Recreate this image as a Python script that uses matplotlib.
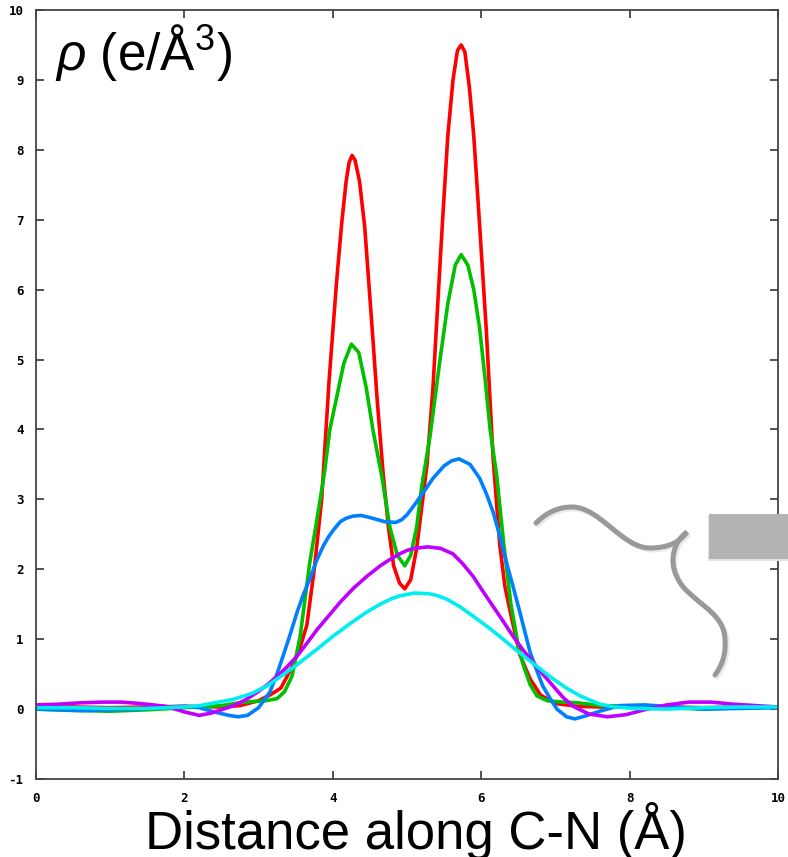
import numpy as np
import matplotlib.pyplot as plt
from matplotlib.path import Path
from matplotlib.patches import PathPatch, Rectangle

plt.rcParams['font.family'] = ['Liberation Sans', 'DejaVu Sans']
plt.rcParams['mathtext.fontset'] = 'custom'
plt.rcParams['mathtext.rm'] = 'Liberation Sans'
plt.rcParams['mathtext.it'] = 'Liberation Sans:italic'
plt.rcParams['axes.unicode_minus'] = False

# density profiles along the C-N axis
x_red = [0, 0.5, 1.0, 1.5, 2.0, 2.5, 2.75, 3.0, 3.15, 3.3, 3.45, 3.55, 3.65, 3.75, 3.85,
         3.95, 4.05, 4.12, 4.18, 4.22, 4.26, 4.3, 4.36, 4.43, 4.53, 4.6, 4.68, 4.75, 4.82, 4.9,
         4.97, 5.05, 5.13, 5.2, 5.27, 5.35, 5.42, 5.48, 5.55, 5.62, 5.68, 5.73, 5.78, 5.84,
         5.9, 5.98, 6.07, 6.16, 6.25, 6.32, 6.4, 6.52, 6.66, 6.8, 7.0, 7.3, 7.6, 8.0, 8.5,
         9.0, 9.5, 10]
y_red = [0.03, 0.03, 0.02, 0.03, 0.04, 0.03, 0.05, 0.12, 0.2, 0.3, 0.6, 0.85, 1.2, 2.0, 3.0,
         4.7, 6.1, 6.95, 7.55, 7.82, 7.92, 7.85, 7.55, 6.9, 5.45, 4.4, 3.35, 2.6, 2.05, 1.8,
         1.72, 1.85, 2.3, 2.9, 3.5, 4.6, 5.9, 7.0, 8.2, 9.0, 9.42, 9.5, 9.4, 8.9,
         8.2, 6.9, 5.4, 3.6, 2.35, 1.75, 1.35, 0.78, 0.43, 0.2, 0.08, 0.04, 0.03, 0.04, 0.03,
         0.02, 0.03, 0.03]

x_green = [0, 0.5, 1.0, 1.5, 2.0, 2.5, 2.8, 3.1, 3.25, 3.35, 3.45, 3.56, 3.69, 3.8, 3.89,
           3.96, 4.05, 4.15, 4.25, 4.35, 4.45, 4.54, 4.66, 4.77, 4.87, 4.97, 5.05, 5.13,
           5.2, 5.31, 5.44, 5.55, 5.65, 5.73, 5.82, 5.9, 5.98, 6.05, 6.12, 6.21, 6.3, 6.4,
           6.5, 6.57, 6.66, 6.75, 6.89, 7.1, 7.3, 7.6, 8.0, 8.5, 9.0, 9.5, 10]
y_green = [0.0, -0.02, -0.03, -0.01, 0.02, 0.05, 0.1, 0.12, 0.15, 0.25, 0.47, 1.04, 2.1, 2.8, 3.4,
           4.0, 4.45, 4.95, 5.22, 5.1, 4.6, 4.0, 3.33, 2.6, 2.2, 2.05, 2.2, 2.6,
           3.2, 3.9, 4.96, 5.8, 6.35, 6.5, 6.35, 6.0, 5.44, 4.75, 4.0, 3.33, 2.4, 1.5,
           0.9, 0.62, 0.35, 0.19, 0.12, 0.1, 0.09, 0.05, 0.04, 0.02, 0.0, 0.02, 0.03]

x_blue = [0, 0.3, 0.6, 1.0, 1.4, 1.8, 2.0, 2.2, 2.4, 2.6, 2.72, 2.85, 3.0, 3.15, 3.24, 3.33,
          3.42, 3.52, 3.6, 3.69, 3.78, 3.87, 3.94, 4.0, 4.1, 4.18, 4.27, 4.38, 4.5, 4.6, 4.7,
          4.85, 4.93, 5.0, 5.1, 5.22, 5.35, 5.5, 5.6, 5.7, 5.85, 5.98, 6.07, 6.16, 6.25, 6.34,
          6.43, 6.52, 6.66, 6.75, 6.83, 6.93, 7.02, 7.15, 7.26, 7.4, 7.6, 7.87, 8.2, 8.6, 9.0,
          9.5, 10]
y_blue = [0.0, -0.01, -0.02, -0.01, 0.0, 0.03, 0.04, 0.02, -0.04, -0.09, -0.11, -0.09, 0.02,
          0.24, 0.48, 0.76, 1.05, 1.39, 1.63, 1.86, 2.12, 2.33, 2.46, 2.55, 2.68, 2.73, 2.76,
          2.77, 2.74, 2.71, 2.68, 2.67, 2.71, 2.78, 2.92, 3.1, 3.3, 3.48, 3.55, 3.58, 3.5, 3.3,
          3.08, 2.82, 2.48, 2.1, 1.75, 1.39, 0.81, 0.55, 0.33, 0.15, 0.0, -0.11, -0.14, -0.1,
          -0.03, 0.05, 0.06, 0.03, 0.0, 0.01, 0.02]

x_purple = [0, 0.3, 0.6, 0.9, 1.15, 1.4, 1.75, 2.0, 2.2, 2.35, 2.5, 2.66, 2.82, 2.98, 3.12,
            3.25, 3.38, 3.52, 3.65, 3.79, 3.95, 4.1, 4.28, 4.46, 4.64, 4.77, 4.9, 5.0, 5.1,
            5.28, 5.45, 5.62, 5.75, 5.89, 6.02, 6.16, 6.3, 6.43, 6.56, 6.7, 6.83, 6.97, 7.1,
            7.24, 7.45, 7.7, 7.95, 8.2, 8.5, 8.8, 9.1, 9.4, 9.7, 10]
y_purple = [0.06, 0.07, 0.09, 0.1, 0.1, 0.08, 0.04, -0.04, -0.09, -0.06, -0.01, 0.05, 0.13,
            0.24, 0.35, 0.47, 0.6, 0.76, 0.94, 1.14, 1.34, 1.53, 1.73, 1.9, 2.05, 2.14, 2.22,
            2.27, 2.3, 2.32, 2.3, 2.22, 2.08, 1.9, 1.69, 1.47, 1.25, 1.04, 0.85, 0.67, 0.5,
            0.33, 0.17, 0.04, -0.07, -0.11, -0.08, -0.01, 0.06, 0.1, 0.1, 0.07, 0.05, 0.03]

x_cyan = [0, 0.5, 1.0, 1.5, 2.0, 2.21, 2.66, 2.9, 3.11, 3.33, 3.56, 3.78, 4.0, 4.23, 4.46,
          4.64, 4.77, 4.9, 5.1, 5.3, 5.42, 5.54, 5.72, 5.89, 6.07, 6.25, 6.43, 6.62, 6.8,
          6.97, 7.15, 7.33, 7.6, 7.8, 8.05, 8.5, 9.0, 9.5, 10]
y_cyan = [0.02, 0.02, 0.01, 0.01, 0.03, 0.05, 0.14, 0.22, 0.33, 0.49, 0.67, 0.85, 1.04, 1.22,
          1.39, 1.5, 1.57, 1.62, 1.66, 1.65, 1.62, 1.57, 1.46, 1.33, 1.19, 1.04, 0.88, 0.72,
          0.57, 0.43, 0.3, 0.19, 0.07, 0.03, 0.01, 0.0, 0.02, 0.03, 0.03]

W, H = 788, 857
fig = plt.figure(figsize=(W / 100, H / 100), dpi=100)
ax = fig.add_axes([36 / W, 1 - 779 / H, 742 / W, 769 / H])

lw = 2.6
ax.plot(x_red, y_red, color='#ff0000', lw=lw)
ax.plot(x_green, y_green, color='#00c000', lw=lw)
ax.plot(x_blue, y_blue, color='#0080ff', lw=lw)
ax.plot(x_purple, y_purple, color='#c000ff', lw=lw)
ax.plot(x_cyan, y_cyan, color='#00eeee', lw=lw)

ax.set_xlim(0, 10)
ax.set_ylim(-1, 10)
ax.set_xticks([0, 2, 4, 6, 8, 10])
ax.set_yticks(range(-1, 11))
ax.tick_params(direction='in', length=6, width=1.2, color='#333333',
               top=True, right=True, pad=9)
for lab in ax.get_xticklabels() + ax.get_yticklabels():
    lab.set_fontfamily('DejaVu Sans Mono')
    lab.set_fontweight('bold')
    lab.set_fontsize(9)
for s in ax.spines.values():
    s.set_color('#444444')
    s.set_linewidth(1.3)

ax.text(0.025, 0.985, r'$\rho$ (e/Å$^3$)', transform=ax.transAxes,
        fontsize=37, va='top', ha='left')
fig.text(416 / W, 1 - 849 / H, 'Distance along C-N (Å)', fontsize=38,
         ha='center', va='baseline')


# grey squiggle and box on the right, in figure pixels
def fpt(px, py):
    return (px / W, 1 - py / H)


verts = [(536, 523), (548, 511), (560, 507), (572, 507),
         (600, 507), (622, 548), (650, 548),
         (668, 548), (680, 542), (687, 532),
         (675, 540), (668, 560), (677, 577),
         (686, 600), (725, 610), (725, 640),
         (726, 655), (722, 665), (715, 675)]
codes = [Path.MOVETO] + [Path.CURVE4] * (len(verts) - 1)
for off, col, a in [((2, 2), '#dddddd', 0.6), ((0, 0), '#999999', 1.0)]:
    pts = [fpt(px + off[0], py + off[1]) for px, py in verts]
    fig.patches.append(PathPatch(Path(pts, codes), transform=fig.transFigure,
                                 fill=False, edgecolor=col, lw=3.6, alpha=a,
                                 capstyle='round', zorder=5))

fig.patches.append(Rectangle(fpt(708, 561), 80 / W, 45 / H, transform=fig.transFigure,
                             facecolor='#e4e4e4', edgecolor='none', zorder=5))
fig.patches.append(Rectangle(fpt(709, 559), 79 / W, 45 / H, transform=fig.transFigure,
                             facecolor='#b3b3b3', edgecolor='none', zorder=6))

fig.savefig('out.png', dpi=100)
